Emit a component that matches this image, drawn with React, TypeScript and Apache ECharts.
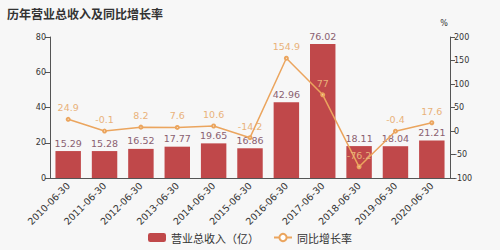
import React, { useEffect, useRef } from "react";
import * as echarts from "echarts";

const categories = ["2010-06-30","2011-06-30","2012-06-30","2013-06-30","2014-06-30","2015-06-30","2016-06-30","2017-06-30","2018-06-30","2019-06-30","2020-06-30"];
const revenue = [15.29, 15.28, 16.52, 17.77, 19.65, 16.86, 42.96, 76.02, 18.11, 18.04, 21.21];
const growth = [24.9, -0.1, 8.2, 7.6, 10.6, -14.2, 154.9, 77, -76.2, -0.4, 17.6];

export default function App() {
  const ref = useRef<HTMLDivElement>(null);
  useEffect(() => {
    const chart = echarts.init(ref.current!, null, { renderer: "svg" });
    const cjk = "'Noto Sans CJK SC', sans-serif";
    const num = "'DejaVu Sans', sans-serif";
    chart.setOption({
      animation: false,
      backgroundColor: "#f7f7f7",
      textStyle: { fontFamily: num },
      title: {
        text: "历年营业总收入及同比增长率",
        left: 2,
        top: 2,
        textStyle: { fontSize: 12, fontWeight: "bold", color: "#333", fontFamily: cjk },
      },
      legend: {
        bottom: 2,
        left: "center",
        itemWidth: 18,
        itemHeight: 9,
        itemGap: 14,
        textStyle: { fontSize: 11, color: "#333", fontFamily: cjk },
        data: [
          { name: "营业总收入（亿）", icon: "roundRect" },
          { name: "同比增长率" },
        ],
      },
      grid: { left: 50, right: 50, top: 37, bottom: 72 },
      xAxis: {
        type: "category",
        data: categories,
        axisLine: { lineStyle: { color: "#555" } },
        axisTick: { lineStyle: { color: "#555" } },
        axisLabel: { rotate: 45, fontSize: 9.5, color: "#333", interval: 0, margin: 6, fontFamily: num },
      },
      yAxis: [
        {
          type: "value",
          min: 0,
          max: 80,
          interval: 20,
          splitLine: { show: false },
          axisLine: { show: true, lineStyle: { color: "#555" } },
          axisTick: { show: true },
          axisLabel: { fontSize: 8, color: "#333", margin: 4, fontFamily: num },
        },
        {
          type: "value",
          name: "%",
          nameGap: 10,
          nameTextStyle: { fontSize: 8, color: "#333", padding: [0, 0, 0, -12], fontFamily: num },
          min: -100,
          max: 200,
          interval: 50,
          splitLine: { show: false },
          axisLine: { show: true, lineStyle: { color: "#555" } },
          axisTick: { show: true },
          axisLabel: { fontSize: 8, color: "#333", margin: 4, fontFamily: num },
        },
      ],
      series: [
        {
          name: "营业总收入（亿）",
          type: "bar",
          data: revenue,
          barWidth: "70%",
          itemStyle: { color: "#c0484a" },
          label: { show: true, position: "top", fontSize: 9.5, color: "#8a6070", distance: 3, fontFamily: num },
        },
        {
          name: "同比增长率",
          type: "line",
          yAxisIndex: 1,
          data: growth,
          symbol: "emptyCircle",
          symbolSize: 3,
          itemStyle: { color: "#eba55e" },
          lineStyle: { color: "#eba55e", width: 1.5 },
          label: { show: true, position: "top", fontSize: 9.5, color: "#e9b27a", distance: 4, fontFamily: num },
        },
      ],
    });
    return () => chart.dispose();
  }, []);
  return <div ref={ref} style={{ width: 500, height: 250, position: "absolute", left: 0, top: 0 }} />;
}
